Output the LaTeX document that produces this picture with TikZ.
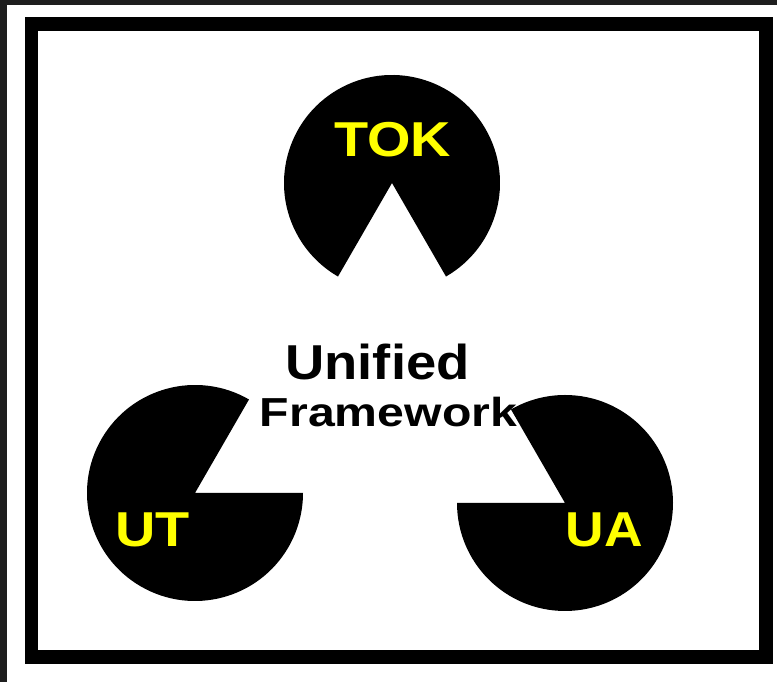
\documentclass[tikz,border=0pt]{standalone}
\usepackage{fontspec}
\setmainfont[Ligatures=NoCommon]{Liberation Sans}
\definecolor{darkedge}{HTML}{1E1E1E}
\definecolor{pacyellow}{HTML}{FFFF00}
\begin{document}
\begin{tikzpicture}[x=1pt,y=1pt,
  pacman/.style={fill=black},
  paclabel/.style={anchor=base,inner sep=0pt,text=pacyellow,font=\bfseries\fontsize{49}{49}\selectfont},
  centerlabel/.style={anchor=base,inner sep=0pt,text=black}]
\useasboundingbox (0,0) rectangle (777,682);
\fill[white] (0,0) rectangle (777,682);
% dark screen edges
\fill[darkedge] (0,677) rectangle (777,682);
\fill[darkedge] (0,0) rectangle (7,682);
% frame
\draw[line width=13.5pt] (31.5,25) rectangle (766,658);
% pacmen
\coordinate (tokc) at (392,499);
\coordinate (utc) at (195,189);
\coordinate (uac) at (565,179);
\fill[pacman] (tokc) -- ++(-60:108) arc[start angle=-60,end angle=240,radius=108] -- cycle;
\fill[pacman] (utc) -- ++(60:108) arc[start angle=60,end angle=360,radius=108] -- cycle;
\fill[pacman] (uac) -- ++(180:108) arc[start angle=180,end angle=480,radius=108] -- cycle;
% labels
\node[paclabel] (tok) at (392.5,525.3) {\scalebox{1.14}[1]{TOK}};
\node[paclabel] (ut) at (152.5,135.3) {\scalebox{1.14}[1]{UT}};
\node[paclabel] (ua) at (604.5,135.3) {\scalebox{1.09}[1]{UA}};
\node[centerlabel,font=\bfseries\fontsize{49}{49}\selectfont] (unified) at (377.5,302) {\scalebox{1.11}[1]{Unified}};
\node[centerlabel,font=\bfseries\fontsize{40.5}{40.5}\selectfont] (framework) at (388.5,255) {\scalebox{1.19}[1]{Framework}};
\end{tikzpicture}
\end{document}
